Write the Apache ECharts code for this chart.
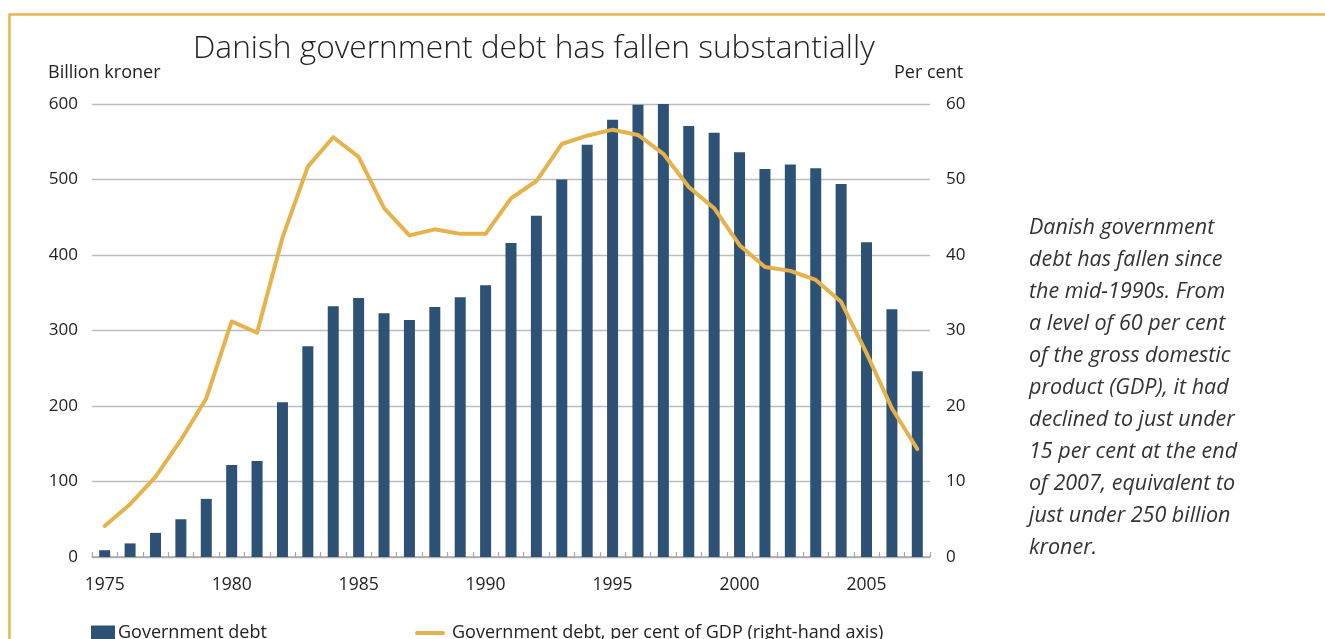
<!DOCTYPE html>
<html>
<head>
<meta charset="utf-8">
<title>Danish government debt</title>
<script src="https://cdn.jsdelivr.net/npm/echarts@6/dist/echarts.min.js"></script>
<style>
  html, body { margin: 0; padding: 0; background: #ffffff; }
  #chart { width: 1325px; height: 639px; }
</style>
</head>
<body>
<div id="chart"></div>
<script>
// Years on the category axis
const years = [
  '1975','1976','1977','1978','1979','1980','1981','1982','1983','1984','1985',
  '1986','1987','1988','1989','1990','1991','1992','1993','1994','1995','1996',
  '1997','1998','1999','2000','2001','2002','2003','2004','2005','2006','2007'
];

// Government debt, billion kroner (left axis)
const debtBillionKr = [
  9, 18, 32, 50, 77, 122, 127, 205, 279, 332, 343,
  323, 314, 331, 344, 360, 416, 452, 500, 546, 579, 599,
  601, 571, 562, 536, 514, 520, 515, 494, 417, 328, 246
];

// Government debt as per cent of GDP (right axis)
const debtPctGdp = [
  4.1, 7.0, 10.6, 15.5, 21.0, 31.2, 29.7, 42.3, 51.7, 55.6, 53.0,
  46.2, 42.6, 43.4, 42.8, 42.8, 47.5, 49.8, 54.7, 55.8, 56.6, 55.9,
  53.4, 49.0, 46.2, 41.3, 38.4, 37.9, 36.7, 33.8, 27.0, 19.7, 14.3
];

const leftTicks = { min: 0, max: 600, interval: 100 };
const rightTicks = { min: 0, max: 60, interval: 10 };

const titleText = 'Danish government debt has fallen substantially';
const leftUnit = 'Billion kroner';
const rightUnit = 'Per cent';
const barName = 'Government debt';
const lineName = 'Government debt, per cent of GDP (right-hand axis)';
const noteLines = [
  'Danish government',
  'debt has fallen since',
  'the mid-1990s. From',
  'a level of 60 per cent',
  'of the gross domestic',
  'product (GDP), it had',
  'declined to just under',
  '15 per cent at the end',
  'of 2007, equivalent to',
  'just under 250 billion',
  'kroner.'
];

const FONT = '"Open Sans", "Noto Sans", sans-serif';
const BAR = '#2e5275';
const GOLD = '#e6b24b';
const TEXT = '#222222';

const chart = echarts.init(document.getElementById('chart'), null, { renderer: 'canvas' });

chart.setOption({
  animation: false,
  backgroundColor: '#ffffff',
  textStyle: { fontFamily: FONT },
  grid: { left: 92, right: 395, top: 104, bottom: 82, containLabel: false },
  xAxis: {
    type: 'category',
    data: years,
    boundaryGap: true,
    axisLine: { lineStyle: { color: '#a8a8a8', width: 1.5 } },
    axisTick: { show: true, inside: true, length: 5, interval: 0, lineStyle: { color: '#a8a8a8', width: 1.2 } },
    axisLabel: {
      interval: 4, margin: 19, color: TEXT, fontSize: 17.5, fontFamily: FONT
    },
    splitLine: { show: false }
  },
  yAxis: [
    {
      type: 'value',
      min: leftTicks.min, max: leftTicks.max, interval: leftTicks.interval,
      axisLine: { show: false },
      axisTick: { show: false },
      axisLabel: { color: TEXT, fontSize: 17, margin: 14, fontFamily: FONT },
      splitLine: { show: true, lineStyle: { color: '#bcbcbc', width: 1.3 } }
    },
    {
      type: 'value',
      position: 'right',
      min: rightTicks.min, max: rightTicks.max, interval: rightTicks.interval,
      axisLine: { show: false },
      axisTick: { show: false },
      axisLabel: { color: TEXT, fontSize: 17, margin: 16, fontFamily: FONT },
      splitLine: { show: false }
    }
  ],
  legend: [
    {
      data: [{ name: barName, icon: 'rect' }],
      left: 91, top: 624, padding: 0,
      itemWidth: 24, itemHeight: 15,
      textStyle: { color: TEXT, fontSize: 18, fontFamily: FONT, padding: [0, 0, 0, -2] },
      selectedMode: false
    },
    {
      data: [lineName],
      left: 415, top: 624, padding: 0,
      itemWidth: 26, itemHeight: 15,
      itemStyle: { opacity: 0 },
      lineStyle: { width: 4, color: GOLD },
      textStyle: { color: TEXT, fontSize: 18, fontFamily: FONT, padding: [0, 0, 0, 4] },
      selectedMode: false
    }
  ],
  series: [
    {
      name: barName,
      type: 'bar',
      yAxisIndex: 0,
      data: debtBillionKr,
      barWidth: 11,
      itemStyle: { color: BAR },
      z: 2
    },
    {
      name: lineName,
      type: 'line',
      yAxisIndex: 1,
      data: debtPctGdp,
      symbol: 'none',
      smooth: false,
      lineStyle: { color: GOLD, width: 4, join: 'round', cap: 'round' },
      itemStyle: { color: GOLD },
      z: 3
    }
  ],
  graphic: [
    {
      type: 'polyline',
      silent: true,
      shape: { points: [[9.5, 639], [9.5, 14.5], [1325, 14.5]] },
      style: { stroke: '#e8b44c', lineWidth: 2.5, fill: null }
    },
    {
      type: 'text',
      left: 193, top: 33,
      style: { text: titleText, font: '300 31.7px ' + FONT, fill: TEXT }
    },
    {
      type: 'text',
      left: 48, top: 64,
      style: { text: leftUnit, font: '18px ' + FONT, fill: TEXT }
    },
    {
      type: 'text',
      left: 894, top: 64,
      style: { text: rightUnit, font: '18px ' + FONT, fill: TEXT }
    },
    {
      type: 'text',
      left: 1029, top: 212,
      style: {
        text: noteLines.join('\n'),
        font: 'italic 21.5px ' + FONT,
        lineHeight: 32,
        fill: '#333333'
      }
    }
  ]
});
</script>
</body>
</html>
